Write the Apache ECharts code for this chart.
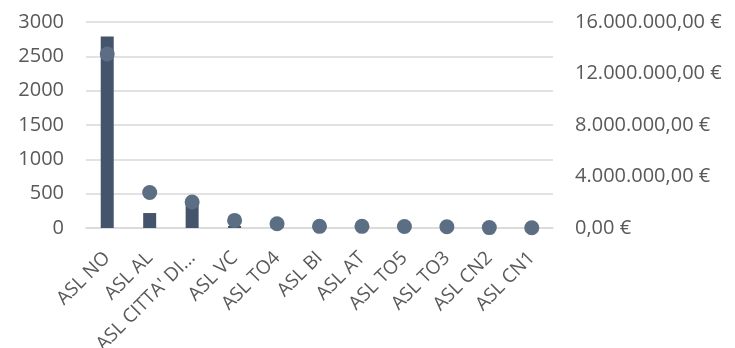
<!DOCTYPE html>
<html>
<head>
<meta charset="utf-8">
<style>html,body{margin:0;padding:0;background:#fff;}#c{width:735px;height:348px;}</style>
<script src="https://cdn.jsdelivr.net/npm/echarts@6/dist/echarts.min.js"></script>
</head>
<body>
<div id="c"></div>
<script>
const categories = ["ASL NO", "ASL AL", "ASL CITTA' DI...", "ASL VC", "ASL TO4", "ASL BI", "ASL AT", "ASL TO5", "ASL TO3", "ASL CN2", "ASL CN1"];
const barValues = [2790, 218, 340, 30, 8, 5, 5, 4, 3, 2, 1];
const dotValues = [13520000, 2760000, 2020000, 590000, 330000, 130000, 130000, 120000, 100000, 30000, 20000];
const leftTicks = [0, 3000, 500];
const rightTicks = [0, 16000000, 4000000];

function euro(v) {
  const parts = Math.round(v).toString().replace(/\B(?=(\d{3})+(?!\d))/g, '.');
  return parts + ',00 €';
}

const font = { fontFamily: 'Open Sans', fontSize: 20, color: '#595959' };
const chart = echarts.init(document.getElementById('c'));
chart.setOption({
  animation: false,
  grid: { left: 86, right: 182, top: 22, bottom: 120, containLabel: false, outerBoundsMode: 'none' },
  xAxis: {
    type: 'category',
    data: categories,
    axisLine: { show: true, lineStyle: { color: '#d9d9d9', width: 1.5 } },
    axisTick: { show: false },
    axisLabel: { rotate: 45, interval: 0, margin: 27, fontSize: 19, fontFamily: 'Open Sans', color: '#595959' }
  },
  yAxis: [
    {
      type: 'value', min: leftTicks[0], max: leftTicks[1], interval: leftTicks[2],
      axisLine: { show: false }, axisTick: { show: false },
      splitLine: { lineStyle: { color: '#d9d9d9', width: 1.5 } },
      axisLabel: Object.assign({ margin: 22, formatter: function (v) { return String(v); } }, font)
    },
    {
      type: 'value', min: rightTicks[0], max: rightTicks[1], interval: rightTicks[2],
      axisLine: { show: false }, axisTick: { show: false },
      splitLine: { show: false },
      axisLabel: Object.assign({ margin: 22, formatter: euro }, font)
    }
  ],
  series: [
    {
      type: 'bar', yAxisIndex: 0, data: barValues, barWidth: 13,
      itemStyle: { color: '#44546a' }
    },
    {
      type: 'scatter', yAxisIndex: 1, data: dotValues, symbolSize: 15,
      itemStyle: { color: '#5b6e84', opacity: 1 }
    }
  ]
});
</script>
</body>
</html>
